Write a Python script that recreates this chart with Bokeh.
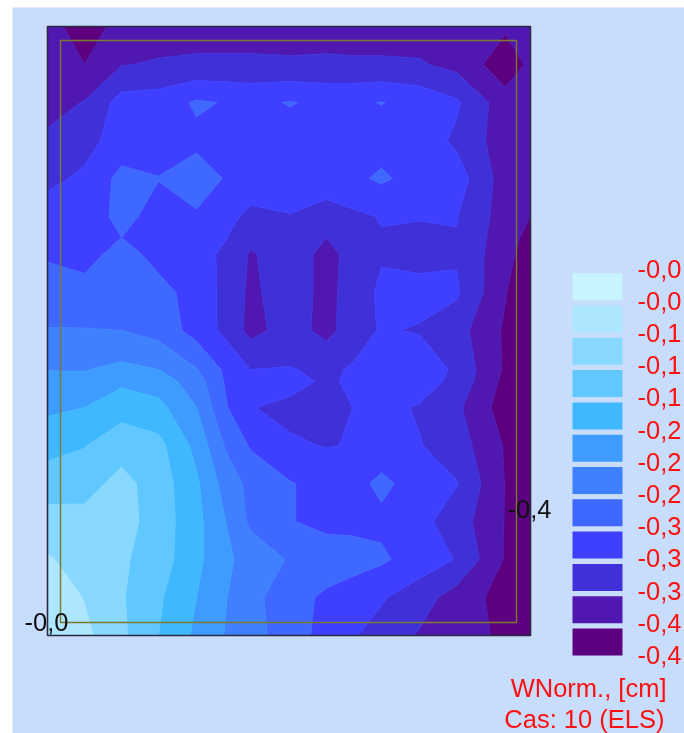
import numpy as np
from bokeh.core.properties import value
from bokeh.embed import file_html
from bokeh.models import Range1d
from bokeh.plotting import figure
from bokeh.resources import INLINE

# Plate node positions (m) and deflection in contour steps
x_nodes = [0, .37, .74, 1.11, 1.49, 1.78, 2.03, 2.43, 2.79, 3.05, 3.34, 3.72, 4.09, 4.58, 4.83]
y_nodes = [0, .38, .76, 1.14, 1.52, 1.90, 2.28, 2.54, 2.66, 3.05, 3.43, 3.81, 3.98, 4.19, 4.57, 4.95, 5.33, 5.71, 6.09]
r00 = [1.1,1.75,2.8,4.0,5.2,6.05,6.6,7.55,8.35,8.9,9.4,10.1,10.55,11.2,11.5]
r01 = [1.3,2.05,2.9,3.85,5.0,5.95,6.7,7.6,8.2,8.5,8.9,9.55,10.45,11.4,11.6]
r02 = [1.9,2.4,2.85,3.5,4.75,5.8,6.4,7.1,7.4,7.6,7.85,8.45,9.05,11.1,11.5]
r03 = [2.6,2.7,2.6,3.45,4.7,6.0,7.2,7.95,8.3,8.25,8.2,8.7,9.5,11.05,11.6]
r04 = [3.5,3.35,2.7,3.45,4.85,6.4,7.3,7.95,8.3,8.3,7.8,8.4,8.95,11.05,11.6]
r05 = [4.35,4.05,3.4,3.7,5.3,7.1,8.1,8.85,9.05,8.95,8.5,8.95,9.5,11.1,11.6]
r06 = [5.2,5.0,4.4,4.7,6.0,7.9,8.95,9.3,9.4,9.0,8.7,9.1,9.8,11.5,11.7]
r07 = [5.6,5.7,5.2,5.5,6.5,8.1,8.6,8.6,9.2,8.8,8.4,8.5,9.3,11.3,11.8]
r08 = [6.05,6.05,5.75,6.0,6.95,8.2,9.0,8.95,9.2,8.9,8.3,8.15,9.25,11.15,11.9]
r09 = [6.95,6.95,7.0,7.35,8.4,9.25,10.3,9.6,10.3,9.5,8.9,9.1,9.6,11.15,11.9]
r10 = [7.6,7.7,7.6,7.75,8.3,9.3,10.2,9.5,10.3,9.6,8.8,8.6,8.85,10.95,11.9]
r11 = [8.1,8.3,7.7,8.25,8.6,9.2,10.1,9.5,10.3,9.7,9.1,9.4,9.1,10.7,11.5]
r12 = [8.3,8.35,8.0,8.3,8.4,8.95,9.75,9.3,10.0,9.5,9.05,9.2,9.05,10.6,11.3]
r13 = [8.6,8.4,7.8,8.25,8.1,8.6,9.3,9.05,9.5,9.2,8.95,8.95,8.95,10.5,11.0]
r14 = [9.2,8.85,7.7,7.98,7.6,8.05,8.3,8.4,8.4,8.2,7.85,8.4,8.5,10.5,10.7]
r15 = [9.8,9.3,8.6,8.3,8.2,8.35,8.4,8.4,8.4,8.4,8.4,8.4,9.2,10.55,10.7]
r16 = [10.4,9.95,8.6,8.5,7.88,8.05,8.2,7.95,8.2,8.15,7.97,8.3,8.85,10.6,10.65]
r17 = [10.75,11.0,10.05,9.9,9.8,9.8,9.8,9.85,9.8,9.85,9.85,9.9,10.3,11.6,10.8]
r18 = [10.55,11.6,10.6,10.5,10.5,10.5,10.5,10.5,10.5,10.5,10.5,10.5,10.5,10.85,10.6]
rows = [r00,r01,r02,r03,r04,r05,r06,r07,r08,r09,r10,r11,r12,r13,r14,r15,r16,r17,r18]

legend_colors = ["#c8f4ff","#aee6ff","#88d8ff","#60c8ff","#40b8ff","#3f9cff",
                 "#3f80ff","#3e68ff","#3f40ff","#4030d8","#5018b0","#5c0080"]
legend_labels = ["-0,0","-0,0","-0,1","-0,1","-0,1","-0,2","-0,2","-0,2","-0,3","-0,3","-0,3","-0,4","-0,4"]
title_lines = ["WNorm., [cm]", "Cas: 10 (ELS)"]

BG = "#c8dcfc"
FONT = value("Liberation Sans")
W, H = 684, 733
PX = 100.0          # picture pixels per metre
LEFT, BOTTOM = 47, 635


def dx(px):
    return (px - LEFT) / PX


def dy(py):
    return (BOTTOM - py) / PX


p = figure(width=W, height=H, output_backend="svg", toolbar_location=None,
           x_range=Range1d(dx(0), dx(W)), y_range=Range1d(dy(H), dy(0)),
           min_border=0, outline_line_color=None, border_fill_color="white",
           background_fill_color="white",
           styles={"position": "fixed", "left": "0px", "top": "0px"})
p.axis.visible = False
p.grid.visible = False

# page panel
p.quad(left=[dx(12)], right=[dx(W)], top=[dy(7)], bottom=[dy(H)], fill_color=BG, line_color=None)

# deflection field; each level line takes a band colour so no seam shows between bands
z = -(0.012 + 0.0325 * np.array(rows))
levels = [-(0.012 + 0.0325 * k) for k in range(12, -1, -1)]
band_fill = legend_colors[::-1]
p.contour(x_nodes, y_nodes, z, levels, fill_color=band_fill,
          line_color=band_fill + [band_fill[-1]], line_width=1)

# plate outline and inner frame
p.quad(left=[0], right=[x_nodes[-1]], top=[y_nodes[-1]], bottom=[0], fill_color=None,
       line_color="#2a2a40", line_width=1.6)
p.quad(left=[dx(60)], right=[dx(516)], top=[dy(40)], bottom=[dy(622)], fill_color=None,
       line_color="#7c7a2c", line_width=1.4)

# values on the plate
p.text(x=[dx(24), dx(507)], y=[dy(621), dy(508)], text=["-0,0", "-0,4"], text_font=FONT,
       text_font_size="25.5px", text_color="#111111", text_baseline="middle", text_align="left")

# legend
n = len(legend_colors)
tops = [272.7 + 32.3 * i for i in range(n)]
p.quad(left=[dx(572)] * n, right=[dx(622)] * n, top=[dy(t) for t in tops],
       bottom=[dy(t + 27) for t in tops], fill_color=legend_colors, line_color=None)
p.text(x=[dx(637)] * len(legend_labels), y=[dy(268 + 32.2 * i) for i in range(len(legend_labels))],
       text=legend_labels, text_font=FONT, text_font_size="25.5px", text_color="#ff1010",
       text_baseline="middle", text_align="left")
p.text(x=[dx(666), dx(664)], y=[dy(687), dy(718)], text=title_lines, text_font=FONT,
       text_font_size="25.5px", text_color="#ff1010", text_baseline="middle", text_align="right")

open("out.html", "w").write(file_html(p, INLINE))
